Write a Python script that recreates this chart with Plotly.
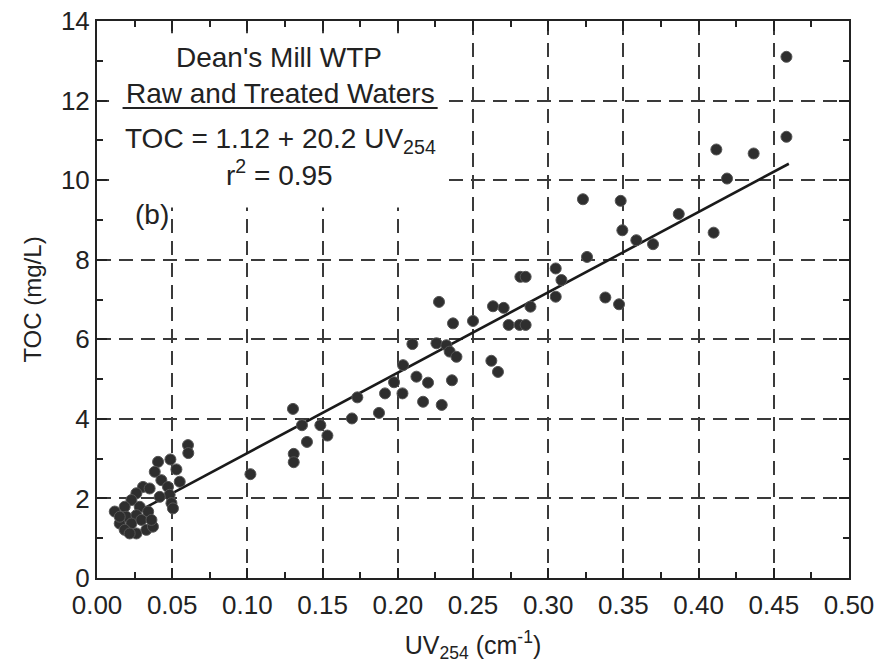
import plotly.graph_objects as go

# UV254 (cm^-1) and TOC (mg/L) readings, raw and treated waters
uv254 = [
    0.0605, 0.0607, 0.0406, 0.0488, 0.0528, 0.0384, 0.0428, 0.0550, 0.0472, 0.0306,
    0.0350, 0.0262, 0.0483, 0.0229, 0.0417, 0.0495, 0.0505, 0.0184, 0.0284, 0.0118,
    0.0195, 0.0262, 0.0340, 0.0151, 0.0229, 0.0295, 0.0184, 0.0262, 0.0328, 0.0372,
    0.0362, 0.0217, 0.0151, 0.1020,
    0.1303, 0.1363, 0.1485, 0.1532, 0.1396, 0.1308, 0.1308, 0.1695, 0.1731, 0.1875,
    0.1915, 0.1975, 0.2031, 0.2035, 0.2097, 0.2124, 0.2168, 0.2201, 0.2257, 0.2274,
    0.2292, 0.2323, 0.2345, 0.2360, 0.2367, 0.2390, 0.2500, 0.2622, 0.2633, 0.2666,
    0.2704, 0.2737, 0.2810, 0.2815, 0.2850, 0.2850, 0.2882, 0.3050, 0.3050, 0.3088,
    0.3231, 0.3258, 0.3380, 0.3471, 0.3482, 0.3493, 0.3586, 0.3697, 0.3868, 0.4100,
    0.4118, 0.4189, 0.4366, 0.4584, 0.4584,
]
toc = [
    3.34, 3.14, 2.92, 2.98, 2.73, 2.67, 2.46, 2.42, 2.29, 2.29,
    2.25, 2.13, 2.09, 1.96, 2.04, 1.88, 1.75, 1.79, 1.79, 1.67,
    1.54, 1.58, 1.67, 1.37, 1.37, 1.46, 1.21, 1.12, 1.21, 1.29,
    1.46, 1.12, 1.54, 2.61,
    4.25, 3.84, 3.84, 3.58, 3.42, 3.12, 2.91, 4.01, 4.54, 4.15,
    4.64, 4.92, 4.64, 5.35, 5.88, 5.06, 4.43, 4.91, 5.90, 6.94,
    4.35, 5.85, 5.69, 4.97, 6.40, 5.56, 6.46, 5.46, 6.83, 5.18,
    6.79, 6.36, 6.36, 7.57, 7.57, 6.36, 6.82, 7.78, 7.07, 7.49,
    9.52, 8.07, 7.05, 6.88, 9.48, 8.74, 8.49, 8.39, 9.15, 8.68,
    10.77, 10.04, 10.67, 13.10, 11.09,
]

# regression shown on the chart
fit_intercept = 1.12
fit_slope = 20.2
fit_x = [0.03, 0.46]
fit_y = [fit_intercept + fit_slope * v for v in fit_x]

x_ticks = [0.00, 0.05, 0.10, 0.15, 0.20, 0.25, 0.30, 0.35, 0.40, 0.45, 0.50]
x_tick_labels = ["0.00", "0.05", "0.10", "0.15", "0.20", "0.25", "0.30", "0.35", "0.40", "0.45", "0.50"]
y_ticks = [0, 2, 4, 6, 8, 10, 12, 14]
y_tick_labels = ["0", "2", "4", "6", "8", "10", "12", "14"]

FONT = "Liberation Sans, Arial, Helvetica, sans-serif"
INK = "#222222"

fig = go.Figure()
fig.add_trace(go.Scatter(
    x=fit_x, y=fit_y, mode="lines",
    line=dict(color="#1a1a1a", width=2.6),
    showlegend=False, hoverinfo="skip",
))
fig.add_trace(go.Scatter(
    x=uv254, y=toc, mode="markers",
    marker=dict(size=11, color="#2e2e2e", line=dict(color="#555555", width=1)),
    showlegend=False,
))

axis_common = dict(
    showline=True, linecolor=INK, linewidth=2, mirror="allticks",
    ticks="inside", ticklen=10, tickwidth=1.5, tickcolor=INK,
    showgrid=True, gridcolor="#3a3a3a", gridwidth=1.5, griddash="14px,8px",
    zeroline=False, ticklabeloverflow="allow",
    tickfont=dict(family=FONT, size=26, color=INK),
)

fig.update_xaxes(
    range=[0, 0.5], tickmode="array", tickvals=x_ticks, ticktext=x_tick_labels,
    minor=dict(dtick=0.025, ticks="inside", ticklen=6, tickwidth=1.5, tickcolor=INK, showgrid=False),
    title=dict(text="UV<sub>254</sub> (cm<sup>-1</sup>)", font=dict(family=FONT, size=25, color=INK), standoff=24),
    ticklabelstandoff=3,
    automargin=False,
    **axis_common,
)
fig.update_yaxes(
    range=[0, 14], tickmode="array", tickvals=y_ticks, ticktext=y_tick_labels,
    minor=dict(dtick=1, ticks="inside", ticklen=6, tickwidth=1.5, tickcolor=INK, showgrid=False),
    title=dict(text="TOC (mg/L)", font=dict(family=FONT, size=24, color=INK), standoff=12),
    automargin=False,
    **axis_common,
)

# white panel behind the caption block (hides gridlines; leaves the inside ticks visible)
fig.add_shape(type="rect", xref="paper", yref="paper", x0=0.016, x1=0.4625, y0=0.665, y1=0.978,
              fillcolor="white", line=dict(width=0), layer="above")
# underline under caption title
fig.add_shape(type="line", xref="paper", yref="paper", x0=0.034, x1=0.453, y0=0.844, y1=0.844,
              line=dict(color=INK, width=2), layer="above")

ann_font = dict(family=FONT, size=28, color=INK)
captions = [
    ("Dean's Mill WTP", 0.2417, 0.935),
    ("Raw and Treated Waters", 0.2437, 0.870),
    ("TOC = 1.12 + 20.2 UV<sub>254</sub>", 0.2437, 0.785),
    ("r<sup>2</sup> = 0.95", 0.243, 0.727),
    ("(b)", 0.073, 0.653),
]
for txt, px, py in captions:
    fig.add_annotation(text=txt, xref="paper", yref="paper", x=px, y=py,
                       xanchor="center", yanchor="middle", showarrow=False, font=ann_font)

# plot area at 97..849 x 21..578 of the 896x663 page
fig.update_layout(
    width=896, height=663,
    margin=dict(l=97, r=47, t=21, b=85),
    paper_bgcolor="white", plot_bgcolor="white",
    font=dict(family=FONT, color=INK),
)

# remove the browser's default 8px page margin so the figure fills the window
fig.write_html("out.html", config={"displayModeBar": False},
               post_script="document.body.style.margin='0';")
